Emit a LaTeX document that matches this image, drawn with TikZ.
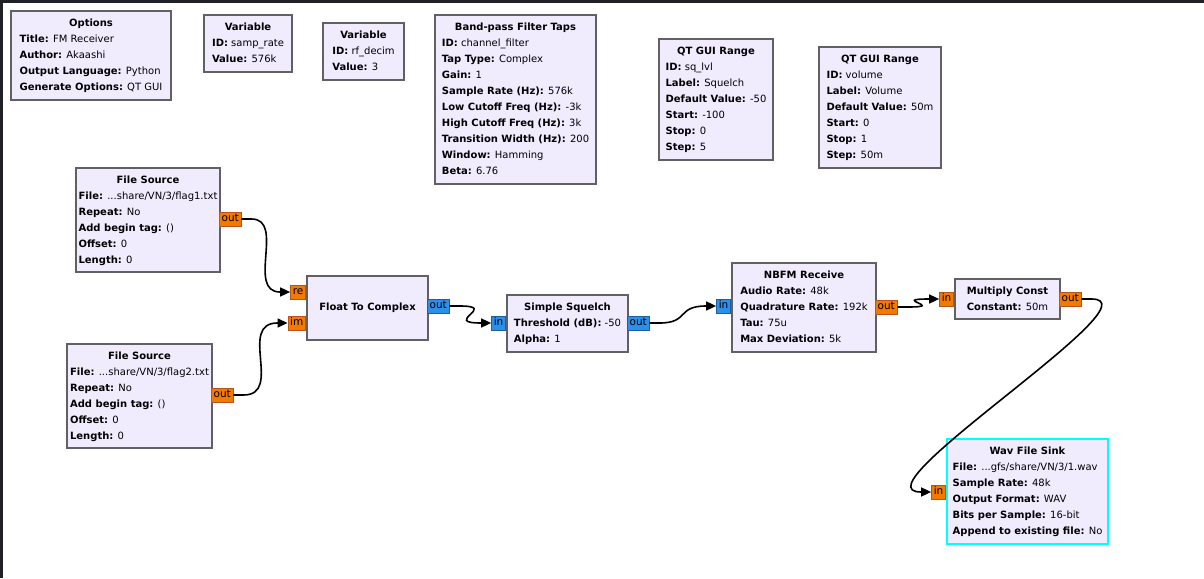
\documentclass[tikz,border=0pt]{standalone}
\usepackage{fontspec}
\setmainfont{DejaVu Sans}
\usetikzlibrary{arrows.meta,calc}
\definecolor{blockfill}{HTML}{F0ECFE}
\definecolor{blockborder}{HTML}{616161}
\definecolor{fport}{HTML}{F37900}
\definecolor{fportb}{HTML}{B5561E}
\definecolor{cport}{HTML}{2C8FEC}
\definecolor{cportb}{HTML}{1A5FA0}
\definecolor{framecol}{HTML}{1F2127}
\definecolor{selcol}{HTML}{00FFFF}
\newcommand{\kv}[2]{\\\textbf{#1:} #2}
\newcommand{\btext}[2]{\begin{tabular}{@{}l@{}}\multicolumn{1}{@{}c@{}}{\textbf{#1}}#2\end{tabular}}
\tikzset{
  block/.style={draw=blockborder, line width=2pt, fill=blockfill, anchor=north west,
    inner sep=0pt, font=\fontsize{10}{16}\selectfont},
  selblock/.style={block, draw=selcol},
  port/.style={line width=0.9pt, minimum height=14pt, inner xsep=2.2pt, inner ysep=0pt,
    text height=7.8pt, text depth=2pt, font=\fontsize{10.5}{12}\selectfont},
  fout/.style={port, fill=fport, draw=fportb, anchor=west},
  fin/.style={port, fill=fport, draw=fportb, anchor=east},
  cout/.style={port, fill=cport, draw=cportb, anchor=west},
  cin/.style={port, fill=cport, draw=cportb, anchor=east},
  wire/.style={draw=black, line width=1.6pt, -{Triangle[length=10pt,width=9pt]}}
}
\begin{document}
\begin{tikzpicture}[x=1pt,y=-1pt]
\useasboundingbox (0,0) rectangle (1204,578);
\fill[white] (0,0) rectangle (1204,578);
\fill[framecol] (0,0) rectangle (1204,3);
\fill[framecol] (0,0) rectangle (3,578);

% variable / option blocks
\node[block, minimum width=160pt, minimum height=89pt] (opts) at (10,10)
  {\btext{Options}{\kv{Title}{FM Receiver}\kv{Author}{Akaashi}\kv{Output Language}{Python}\kv{Generate Options}{QT GUI}}};
\node[block, minimum width=88pt, minimum height=57pt] (var1) at (203,14)
  {\btext{Variable}{\kv{ID}{samp\_rate}\kv{Value}{576k}}};
\node[block, minimum width=81pt, minimum height=57pt] (var2) at (322,22)
  {\btext{Variable}{\kv{ID}{rf\_decim}\kv{Value}{3}}};
\node[block, minimum width=161pt, minimum height=169pt] (bpf) at (434,14)
  {\btext{Band-pass Filter Taps}{\kv{ID}{channel\_filter}\kv{Tap Type}{Complex}\kv{Gain}{1}\kv{Sample Rate (Hz)}{576k}\kv{Low Cutoff Freq (Hz)}{-3k}\kv{High Cutoff Freq (Hz)}{3k}\kv{Transition Width (Hz)}{200}\kv{Window}{Hamming}\kv{Beta}{6.76}}};
\node[block, minimum width=114pt, minimum height=121pt] (rng1) at (658,38)
  {\btext{QT GUI Range}{\kv{ID}{sq\_lvl}\kv{Label}{Squelch}\kv{Default Value}{-50}\kv{Start}{-100}\kv{Stop}{0}\kv{Step}{5}}};
\node[block, minimum width=122pt, minimum height=121pt] (rng2) at (818,46)
  {\btext{QT GUI Range}{\kv{ID}{volume}\kv{Label}{Volume}\kv{Default Value}{50m}\kv{Start}{0}\kv{Stop}{1}\kv{Step}{50m}}};

% signal blocks
\node[block, minimum width=144pt, minimum height=104pt] (fs1) at (75,167)
  {\btext{File Source}{\kv{File}{...share/VN/3/flag1.txt}\kv{Repeat}{No}\kv{Add begin tag}{()}\kv{Offset}{0}\kv{Length}{0}}};
\node[block, minimum width=145pt, minimum height=104pt] (fs2) at (66,343)
  {\btext{File Source}{\kv{File}{...share/VN/3/flag2.txt}\kv{Repeat}{No}\kv{Add begin tag}{()}\kv{Offset}{0}\kv{Length}{0}}};
\node[block, minimum width=121pt, minimum height=64pt] (f2c) at (306,275)
  {\textbf{Float To Complex}};
\node[block, minimum width=121pt, minimum height=57pt] (sq) at (506,294)
  {\btext{Simple Squelch}{\kv{Threshold (dB)}{-50}\kv{Alpha}{1}}};
\node[block, minimum width=144pt, minimum height=89pt] (nbfm) at (731,262)
  {\btext{NBFM Receive}{\kv{Audio Rate}{48k}\kv{Quadrature Rate}{192k}\kv{Tau}{75u}\kv{Max Deviation}{5k}}};
\node[block, minimum width=105pt, minimum height=40pt] (mul) at (954,278)
  {\btext{Multiply Const}{\kv{Constant}{50m}}};
\node[selblock, minimum width=161pt, minimum height=105pt] (wav) at (946,438)
  {\btext{Wav File Sink}{\kv{File}{...gfs/share/VN/3/1.wav}\kv{Sample Rate}{48k}\kv{Output Format}{WAV}\kv{Bits per Sample}{16-bit}\kv{Append to existing file}{No}}};

% ports
\node[fout] (fs1o) at (219,219) {out};
\node[fout] (fs2o) at (211,395) {out};
\node[fin] (f2cre) at (306,292) {re};
\node[fin] (f2cim) at (306,323) {im};
\node[cout] (f2co) at (427,306) {out};
\node[cin] (sqi) at (506,323) {in};
\node[cout] (sqo) at (627,323) {out};
\node[cin] (nbfmi) at (731,306) {in};
\node[fout] (nbfmo) at (875,307) {out};
\node[fin] (muli) at (954,299) {in};
\node[fout] (mulo) at (1059,299) {out};
\node[fin] (wavi) at (946,492) {in};

% connections
\draw[wire] (fs1o.east) -- ++(10,0) .. controls +(34,0) and +(-34,0) .. ($(f2cre.west)+(-10,0)$) -- (f2cre.west);
\draw[wire] (fs2o.east) -- ++(10,0) .. controls +(40,0) and +(-40,0) .. ($(f2cim.west)+(-10,0)$) -- (f2cim.west);
\draw[wire] (f2co.east) -- ++(10,0) .. controls +(40,0) and +(-40,0) .. ($(sqi.west)+(-10,0)$) -- (sqi.west);
\draw[wire] (sqo.east) -- ++(10,0) .. controls +(30,0) and +(-30,0) .. ($(nbfmi.west)+(-10,0)$) -- (nbfmi.west);
\draw[wire] (nbfmo.east) -- ++(10,0) .. controls +(40,0) and +(-40,0) .. ($(muli.west)+(-10,0)$) -- (muli.west);
\draw[wire] (mulo.east) -- ++(10,0) .. controls +(70,0) and +(-70,0) .. ($(wavi.west)+(-10,0)$) -- (wavi.west);
\end{tikzpicture}
\end{document}
